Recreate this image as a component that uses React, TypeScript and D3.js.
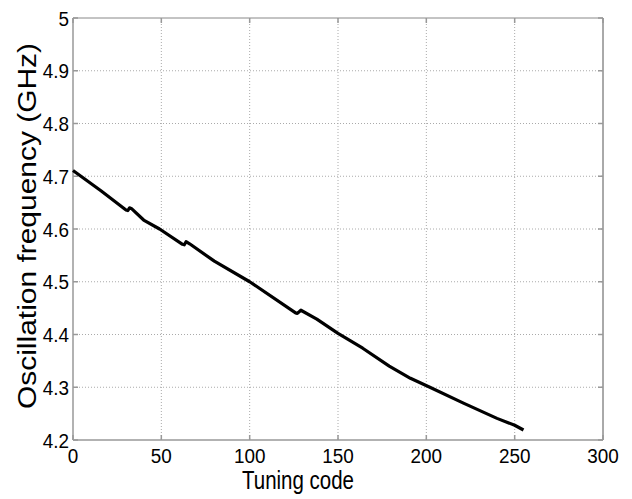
import React from "react";
import * as d3 from "d3";

const codes = [0, 16, 30, 31, 32, 33, 40, 49, 62, 63, 64, 66, 80, 100, 126, 127, 129, 138, 150, 164, 179, 191, 202, 221, 240, 250, 255];
const freqs = [4.711, 4.672, 4.636, 4.635, 4.640, 4.639, 4.617, 4.600, 4.571, 4.570, 4.576, 4.572, 4.539, 4.500, 4.441, 4.440, 4.446, 4.429, 4.402, 4.374, 4.340, 4.317, 4.300, 4.270, 4.241, 4.228, 4.219];
const xTicks = [0, 50, 100, 150, 200, 250, 300];
const yTicks = [4.2, 4.3, 4.4, 4.5, 4.6, 4.7, 4.8, 4.9, 5];
const xLabel = "Tuning code";
const yLabel = "Oscillation frequency (GHz)";

const W = 632, H = 499;
const L = 73, R = 603, T = 18, B = 440;

export default function App() {
  const x = d3.scaleLinear().domain([0, 300]).range([L, R]);
  const y = d3.scaleLinear().domain([4.2, 5]).range([B, T]);
  const pts = codes.map((c, i) => [c, freqs[i]] as [number, number]);
  const line = d3.line<[number, number]>().x(d => x(d[0])).y(d => y(d[1]));
  const font = "'Liberation Sans', Arial, sans-serif";
  return (
    <svg width={W} height={H} style={{ position: "absolute", left: 0, top: 0, background: "#fff" }}>
      <rect x={0} y={0} width={W} height={H} fill="#fff" />
      {xTicks.slice(1, -1).map(t => (
        <line key={"gx" + t} x1={x(t)} x2={x(t)} y1={T} y2={B} stroke="#aaa" strokeWidth={1} strokeDasharray="1,2" />
      ))}
      {yTicks.slice(1, -1).map(t => (
        <line key={"gy" + t} x1={L} x2={R} y1={y(t)} y2={y(t)} stroke="#aaa" strokeWidth={1} strokeDasharray="1,2" />
      ))}
      <line x1={L} x2={R} y1={T} y2={T} stroke="#888" strokeWidth={1} />
      <line x1={R} x2={R} y1={T} y2={B} stroke="#555" strokeWidth={1} />
      <line x1={L} x2={L} y1={T} y2={B} stroke="#999" strokeWidth={1.5} />
      <line x1={L} x2={R} y1={B} y2={B} stroke="#999" strokeWidth={1.5} />
      {xTicks.map(t => (
        <g key={"tx" + t}>
          <line x1={x(t)} x2={x(t)} y1={B} y2={B - 5} stroke="#999" strokeWidth={1.5} />
          <line x1={x(t)} x2={x(t)} y1={T} y2={T + 5} stroke="#999" strokeWidth={1.5} />
          <text transform={`translate(${x(t)},463) scale(0.9,1)`} textAnchor="middle" fontFamily={font} fontSize={21} fill="#000">{t}</text>
        </g>
      ))}
      {yTicks.map(t => (
        <g key={"ty" + t}>
          <line x1={L} x2={L + 5} y1={y(t)} y2={y(t)} stroke="#999" strokeWidth={1.5} />
          <line x1={R} x2={R - 5} y1={y(t)} y2={y(t)} stroke="#999" strokeWidth={1.5} />
          <text transform={`translate(69,${y(t) + 7.5}) scale(0.9,1)`} textAnchor="end" fontFamily={font} fontSize={21} fill="#000">{d3.format("")(t)}</text>
        </g>
      ))}
      <path d={line(pts) || ""} fill="none" stroke="#000" strokeWidth={3.2} strokeLinejoin="round" />
      <text x={298} y={489} textAnchor="middle" fontFamily={font} fontSize={25} textLength={112} lengthAdjust="spacingAndGlyphs" fill="#000">{xLabel}</text>
      <text transform={`translate(36,226) rotate(-90)`} textAnchor="middle" fontFamily={font} fontSize={25} textLength={366} lengthAdjust="spacingAndGlyphs" fill="#000">{yLabel}</text>
    </svg>
  );
}
